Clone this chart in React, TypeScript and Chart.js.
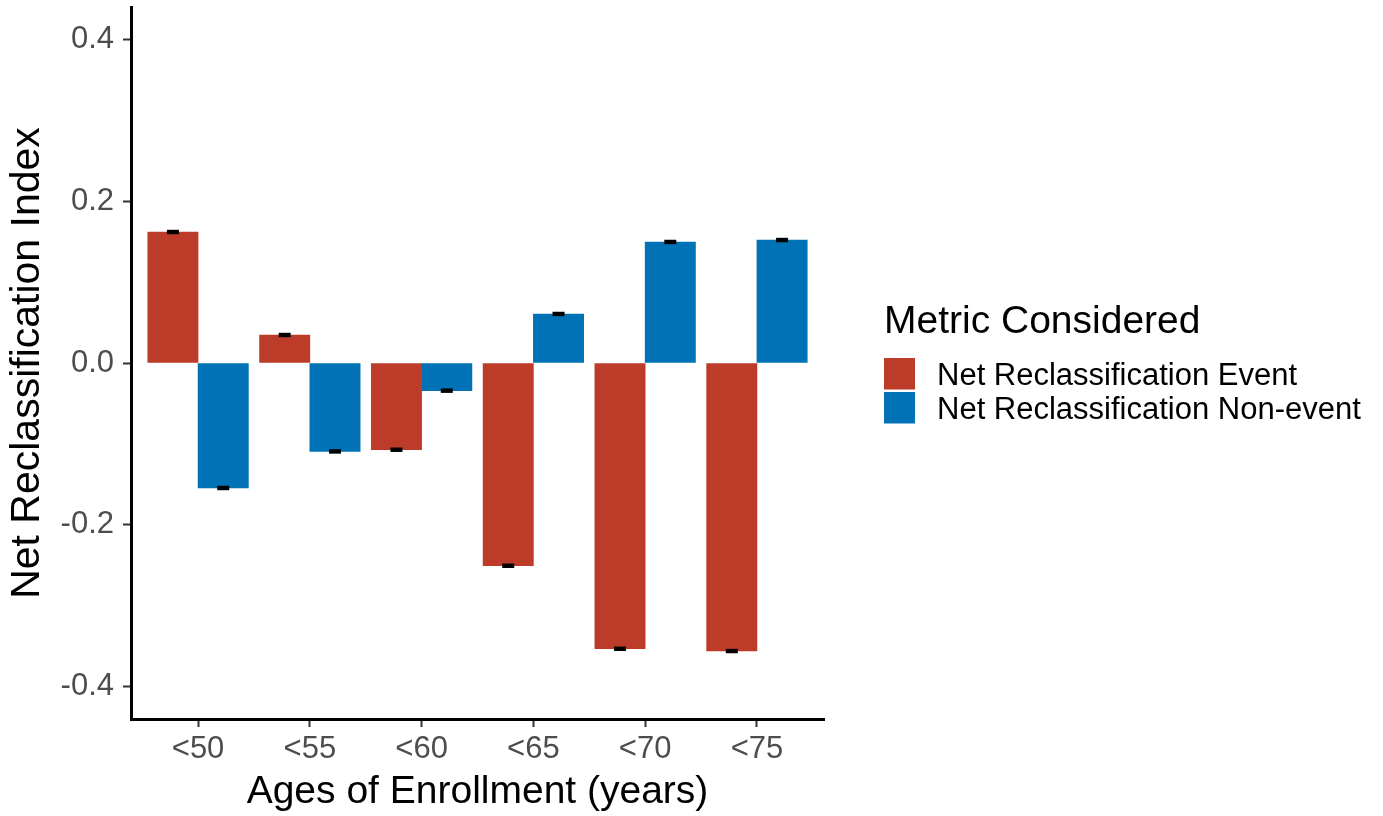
import React, { useEffect, useRef } from 'react';
import { Chart, registerables } from 'chart.js';

Chart.register(...registerables);

// Age-of-enrollment groups on the x axis
const ageGroups = ['<50', '<55', '<60', '<65', '<70', '<75'];

// Net reclassification index per group
const eventNri = [0.1619, 0.0346, -0.1072, -0.2506, -0.3532, -0.356];
const nonEventNri = [-0.1545, -0.1093, -0.0342, 0.0606, 0.1496, 0.152];

// Confidence bounds drawn as error bars
const eventLow = [0.1604, 0.0331, -0.1087, -0.2521, -0.3547, -0.3575];
const eventHigh = [0.1634, 0.0361, -0.1057, -0.2491, -0.3517, -0.3545];
const nonEventLow = [-0.156, -0.1108, -0.0357, 0.0591, 0.1481, 0.1505];
const nonEventHigh = [-0.153, -0.1078, -0.0327, 0.0621, 0.1511, 0.1535];

const yTickValues = [-0.4, -0.2, 0, 0.2, 0.4];
const seriesNames = ['Net Reclassification Event', 'Net Reclassification Non-event'];
const seriesColors = ['#BC3C29', '#0072B5'];

const FONT = '"Liberation Sans", Arial, Helvetica, sans-serif';

const errorBarPlugin = {
  id: 'errorBars',
  afterDatasetsDraw(chart: any) {
    const { ctx } = chart;
    const y = chart.scales.y;
    const bounds = [
      [eventLow, eventHigh],
      [nonEventLow, nonEventHigh],
    ];
    ctx.save();
    ctx.fillStyle = '#000000';
    chart.data.datasets.forEach((_ds: any, di: number) => {
      const meta = chart.getDatasetMeta(di);
      meta.data.forEach((bar: any, i: number) => {
        const top = y.getPixelForValue(bounds[di][1][i]);
        const bottom = y.getPixelForValue(bounds[di][0][i]);
        ctx.fillRect(bar.x - 6, top - 1, 12, bottom - top + 2);
      });
    });
    ctx.restore();
  },
};

const legendPlugin = {
  id: 'sideLegend',
  afterDraw(chart: any) {
    const { ctx } = chart;
    const x0 = 884;
    ctx.save();
    ctx.fillStyle = '#000000';
    ctx.textAlign = 'left';
    ctx.textBaseline = 'alphabetic';
    ctx.font = `39px ${FONT}`;
    ctx.fillText('Metric Considered', x0, 333);
    ctx.font = `31px ${FONT}`;
    ctx.textBaseline = 'middle';
    const keyTops = [358, 392];
    seriesNames.forEach((name, i) => {
      ctx.fillStyle = seriesColors[i];
      ctx.fillRect(x0, keyTops[i], 31, 31.5);
      ctx.fillStyle = '#000000';
      ctx.fillText(name, 937, keyTops[i] + 18);
    });
    ctx.restore();
  },
};

export default function App() {
  const canvasRef = useRef<HTMLCanvasElement | null>(null);

  useEffect(() => {
    if (!canvasRef.current) return;
    const chart = new Chart(canvasRef.current, {
      type: 'bar',
      data: {
        datasets: [
          {
            label: seriesNames[0],
            data: eventNri.map((v, i) => ({ x: i + 1, y: v })),
            backgroundColor: seriesColors[0],
            borderWidth: 0,
            barThickness: 50.3,
          },
          {
            label: seriesNames[1],
            data: nonEventNri.map((v, i) => ({ x: i + 1, y: v })),
            backgroundColor: seriesColors[1],
            borderWidth: 0,
            barThickness: 50.3,
          },
        ],
      },
      options: {
        responsive: false,
        animation: false,
        events: [],
        layout: { padding: { left: 0, top: 7, right: 559, bottom: 0 } },
        plugins: {
          legend: { display: false },
          tooltip: { enabled: false },
        },
        scales: {
          x: {
            type: 'linear',
            min: 0.4,
            max: 6.6,
            offset: false,
            afterBuildTicks: (scale: any) => {
              scale.ticks = ageGroups.map((_, i) => ({ value: i + 1 }));
            },
            afterFit: (scale: any) => {
              scale.height = 97;
              scale.paddingLeft = 0;
              scale.paddingRight = 0;
            },
            grid: {
              offset: false,
              drawOnChartArea: false,
              drawTicks: true,
              tickLength: 8,
              tickColor: '#333333',
              tickWidth: 2,
            },
            border: { display: true, color: '#000000', width: 3 },
            ticks: {
              autoSkip: false,
              maxRotation: 0,
              padding: 4,
              color: '#4D4D4D',
              font: { family: FONT, size: 31 },
              callback: (value: any) => ageGroups[Math.round(Number(value)) - 1] ?? '',
            },
            title: {
              display: true,
              text: 'Ages of Enrollment (years)',
              color: '#000000',
              font: { family: FONT, size: 39 },
              padding: { top: 0, bottom: 0 },
            },
          },
          y: {
            min: -0.44,
            max: 0.44,
            afterBuildTicks: (scale: any) => {
              scale.ticks = yTickValues.map((v) => ({ value: v }));
            },
            afterFit: (scale: any) => {
              scale.width = 131;
              scale.paddingTop = 0;
              scale.paddingBottom = 0;
            },
            grid: {
              drawOnChartArea: false,
              drawTicks: true,
              tickLength: 8,
              tickColor: '#333333',
              tickWidth: 2,
            },
            border: { display: true, color: '#000000', width: 3 },
            ticks: {
              padding: 9,
              color: '#4D4D4D',
              font: { family: FONT, size: 31 },
              callback: (value: any) => Number(value).toFixed(1),
            },
            title: {
              display: true,
              text: 'Net Reclassification Index',
              color: '#000000',
              font: { family: FONT, size: 41 },
              padding: { top: 3, bottom: 0 },
            },
          },
        },
      },
      plugins: [errorBarPlugin, legendPlugin],
    });
    return () => chart.destroy();
  }, []);

  return (
    <div style={{ position: 'fixed', left: 0, top: 0, width: 1383, height: 816, background: '#ffffff' }}>
      <canvas ref={canvasRef} width={1383} height={816} style={{ width: 1383, height: 816, display: 'block' }} />
    </div>
  );
}
